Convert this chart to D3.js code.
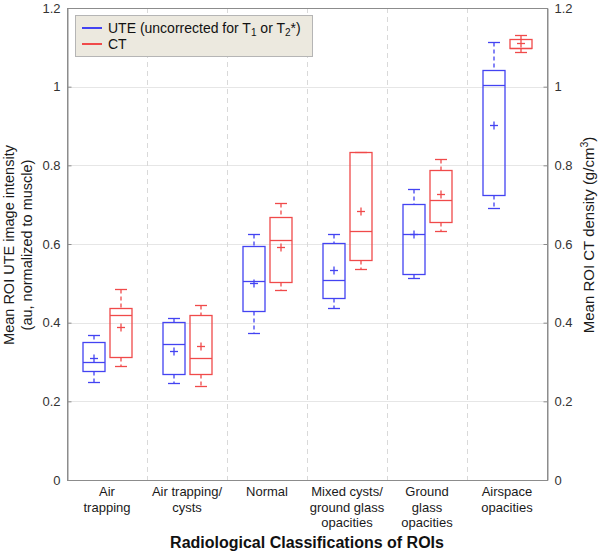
<!DOCTYPE html>
<html>
<head>
<meta charset="utf-8">
<script src="https://cdn.jsdelivr.net/npm/d3@7"></script>
<style>
  body { margin: 0; background: #fff; }
  svg { font-family: "Liberation Sans", Arial, sans-serif; }
</style>
</head>
<body>
<div id="chart"></div>
<script>
// categories (label lines)
var categories = ["Air trapping", "Air trapping/ cysts", "Normal", "Mixed cysts/ ground glass opacities", "Ground glass opacities", "Airspace opacities"];
var categoryLines = [["Air", "trapping"], ["Air trapping/", "cysts"], ["Normal"], ["Mixed cysts/", "ground glass", "opacities"], ["Ground", "glass", "opacities"], ["Airspace", "opacities"]];

// UTE boxes
var uteLow    = [0.249, 0.247, 0.375, 0.438, 0.514, 0.692];
var uteQ1     = [0.277, 0.270, 0.430, 0.463, 0.525, 0.725];
var uteMedian = [0.300, 0.347, 0.505, 0.508, 0.625, 1.004];
var uteQ3     = [0.350, 0.402, 0.594, 0.602, 0.702, 1.042];
var uteHigh   = [0.369, 0.411, 0.625, 0.625, 0.739, 1.113];
var uteMean   = [0.309, 0.329, 0.500, 0.533, 0.625, 0.902];

// CT boxes
var ctLow    = [0.290, 0.239, 0.482, 0.536, 0.632, 1.089];
var ctQ1     = [0.312, 0.269, 0.503, 0.559, 0.656, 1.098];
var ctMedian = [0.420, 0.311, 0.611, 0.633, 0.711, 1.099];
var ctQ3     = [0.437, 0.420, 0.669, 0.835, 0.789, 1.121];
var ctHigh   = [0.486, 0.444, 0.703, 0.835, 0.816, 1.131];
var ctMean   = [0.388, 0.341, 0.592, 0.685, 0.726, 1.110];

var yTicks = [0, 0.2, 0.4, 0.6, 0.8, 1, 1.2];

// dimensions
var margin = {top: 8, right: 53, bottom: 73, left: 67},
    width = 600 - margin.left - margin.right,
    height = 553 - margin.top - margin.bottom;

var svg = d3.select("#chart")
    .append("svg")
        .attr("width", 600)
        .attr("height", 553)
    .append("g")
        .attr("transform", "translate(" + margin.left + "," + margin.top + ")");

var x = d3.scaleBand()
    .domain(categories)
    .range([0, width]);

var y = d3.scaleLinear()
    .domain([0, 1.2])
    .range([height, 0]);

function py(v) { return Math.round(y(v)) + 0.5; }

var axisColor = "#8c8c8c";
var gridColor = "#e6e6e6";
var blue = "#4343f2";
var red = "#f04a4a";

// horizontal grid
svg.append("g")
    .selectAll("line")
    .data(yTicks.slice(1, -1))
    .enter()
    .append("line")
    .attr("x1", 0).attr("x2", width)
    .attr("y1", function(d) { return py(d); })
    .attr("y2", function(d) { return py(d); })
    .attr("stroke", gridColor)
    .attr("stroke-width", 1);

// vertical dashed separators
svg.append("g")
    .selectAll("line")
    .data(categories.slice(1))
    .enter()
    .append("line")
    .attr("x1", function(d) { return Math.round(x(d)) + 0.5; })
    .attr("x2", function(d) { return Math.round(x(d)) + 0.5; })
    .attr("y1", 0).attr("y2", height)
    .attr("stroke", "#d9d9d9")
    .attr("stroke-dasharray", "5,4");

// frame
svg.append("rect")
    .attr("x", 0.5).attr("y", 0.5)
    .attr("width", width).attr("height", height)
    .attr("fill", "none")
    .attr("stroke", axisColor);

// left axis
var yAxisLeft = svg.append("g")
    .attr("transform", "translate(0.5,0)")
    .call(d3.axisLeft(y).tickValues(yTicks).tickSize(-4).tickPadding(7).tickFormat(d3.format("~g")));
// right axis
var yAxisRight = svg.append("g")
    .attr("transform", "translate(" + (width + 0.5) + ",0)")
    .call(d3.axisRight(y).tickValues(yTicks).tickSize(-4).tickPadding(7).tickFormat(d3.format("~g")));

[yAxisLeft, yAxisRight].forEach(function(a) {
    a.select(".domain").attr("stroke", axisColor);
    a.selectAll(".tick line").attr("stroke", axisColor);
    a.selectAll(".tick text")
        .attr("fill", "#333")
        .style("font-size", "13px")
        .style("font-family", "Liberation Sans, Arial, sans-serif");
});

// x category labels
svg.append("g")
    .selectAll("text")
    .data(categories)
    .enter()
    .append("text")
    .attr("text-anchor", "middle")
    .attr("x", function(d) { return x(d) + x.bandwidth() / 2; })
    .attr("y", height + 16)
    .style("font-size", "13px")
    .attr("fill", "#1a1a1a")
    .each(function(d, i) {
        var t = d3.select(this);
        categoryLines[i].forEach(function(line, j) {
            t.append("tspan")
                .attr("x", x(d) + x.bandwidth() / 2)
                .attr("dy", j === 0 ? 0 : 15.5)
                .text(line);
        });
    });

// x title
svg.append("text")
    .attr("text-anchor", "middle")
    .attr("x", width / 2)
    .attr("y", height + 68)
    .style("font-size", "16px")
    .style("font-weight", "bold")
    .attr("fill", "#111")
    .text("Radiological Classifications of ROIs");

// left y label
var yLabel = svg.append("text")
    .attr("text-anchor", "middle")
    .attr("transform", "rotate(-90)")
    .attr("x", -237)
    .attr("y", -53)
    .style("font-size", "14.5px")
    .attr("fill", "#1a1a1a");
yLabel.append("tspan").attr("x", -237).attr("dy", 0).text("Mean ROI UTE image intensity");
yLabel.append("tspan").attr("x", -237).attr("dy", 18).text("(au, normalized to muscle)");

// right y label
var rLabel = svg.append("text")
    .attr("text-anchor", "middle")
    .attr("transform", "rotate(-90)")
    .attr("x", -227)
    .attr("y", width + 47)
    .style("font-size", "15px")
    .attr("fill", "#1a1a1a");
rLabel.append("tspan").text("Mean ROI CT density (g/cm");
rLabel.append("tspan").attr("dy", -6).style("font-size", "10.5px").text("3");
rLabel.append("tspan").attr("dy", 6).text(")");

// boxes
var boxWidth = 22, offset = 13.5, capWidth = 12, sw = 1.3;

function drawBoxes(low, q1, med, q3, high, mean, color, dx) {
    var data = categories.map(function(c, i) {
        return {c: c, low: low[i], q1: q1[i], med: med[i], q3: q3[i], high: high[i], mean: mean[i]};
    });
    var g = svg.append("g")
        .selectAll("g")
        .data(data)
        .enter()
        .append("g")
        .attr("transform", function(d) {
            return "translate(" + Math.round(x(d.c) + x.bandwidth() / 2 + dx) + ",0)";
        });

    // whiskers
    g.append("line")
        .attr("x1", 0).attr("x2", 0)
        .attr("y1", function(d) { return py(d.high); })
        .attr("y2", function(d) { return py(d.q3); })
        .attr("stroke", color).attr("stroke-width", sw).attr("stroke-dasharray", "4,3");
    g.append("line")
        .attr("x1", 0).attr("x2", 0)
        .attr("y1", function(d) { return py(d.q1); })
        .attr("y2", function(d) { return py(d.low); })
        .attr("stroke", color).attr("stroke-width", sw).attr("stroke-dasharray", "4,3");
    // caps
    g.append("line")
        .attr("x1", -capWidth / 2).attr("x2", capWidth / 2)
        .attr("y1", function(d) { return py(d.high); })
        .attr("y2", function(d) { return py(d.high); })
        .attr("stroke", color).attr("stroke-width", sw);
    g.append("line")
        .attr("x1", -capWidth / 2).attr("x2", capWidth / 2)
        .attr("y1", function(d) { return py(d.low); })
        .attr("y2", function(d) { return py(d.low); })
        .attr("stroke", color).attr("stroke-width", sw);
    // box
    g.append("rect")
        .attr("x", -boxWidth / 2)
        .attr("y", function(d) { return py(d.q3); })
        .attr("width", boxWidth)
        .attr("height", function(d) { return py(d.q1) - py(d.q3); })
        .attr("fill", "none")
        .attr("stroke", color).attr("stroke-width", sw);
    // median
    g.append("line")
        .attr("x1", -boxWidth / 2).attr("x2", boxWidth / 2)
        .attr("y1", function(d) { return py(d.med); })
        .attr("y2", function(d) { return py(d.med); })
        .attr("stroke", color).attr("stroke-width", sw);
    // mean marker "+"
    g.append("line")
        .attr("x1", -4).attr("x2", 4)
        .attr("y1", function(d) { return py(d.mean); })
        .attr("y2", function(d) { return py(d.mean); })
        .attr("stroke", color).attr("stroke-width", sw);
    g.append("line")
        .attr("x1", 0).attr("x2", 0)
        .attr("y1", function(d) { return py(d.mean) - 4; })
        .attr("y2", function(d) { return py(d.mean) + 4; })
        .attr("stroke", color).attr("stroke-width", sw);
}

drawBoxes(uteLow, uteQ1, uteMedian, uteQ3, uteHigh, uteMean, blue, -offset);
drawBoxes(ctLow, ctQ1, ctMedian, ctQ3, ctHigh, ctMean, red, offset);

// legend
var legend = svg.append("g").attr("transform", "translate(8,7)");
legend.append("rect")
    .attr("x", 0.5).attr("y", 0.5)
    .attr("width", 237).attr("height", 41)
    .attr("fill", "#ece9df")
    .attr("stroke", "#b5b5b5");
var items = [{label: "UTE", color: blue}, {label: "CT", color: red}];
items.forEach(function(it, i) {
    legend.append("line")
        .attr("x1", 7).attr("x2", 27)
        .attr("y1", 13 + i * 16).attr("y2", 13 + i * 16)
        .attr("stroke", it.color).attr("stroke-width", 2);
});
var t1 = legend.append("text")
    .attr("x", 33).attr("y", 18)
    .style("font-size", "14px")
    .attr("fill", "#111");
t1.append("tspan").text("UTE (uncorrected for T");
t1.append("tspan").attr("dy", 3).style("font-size", "10px").text("1");
t1.append("tspan").attr("dy", -3).text(" or T");
t1.append("tspan").attr("dy", 3).style("font-size", "10px").text("2");
t1.append("tspan").attr("dy", -3).text("*)");
legend.append("text")
    .attr("x", 33).attr("y", 34)
    .style("font-size", "14px")
    .attr("fill", "#111")
    .text("CT");
</script>
</body>
</html>
